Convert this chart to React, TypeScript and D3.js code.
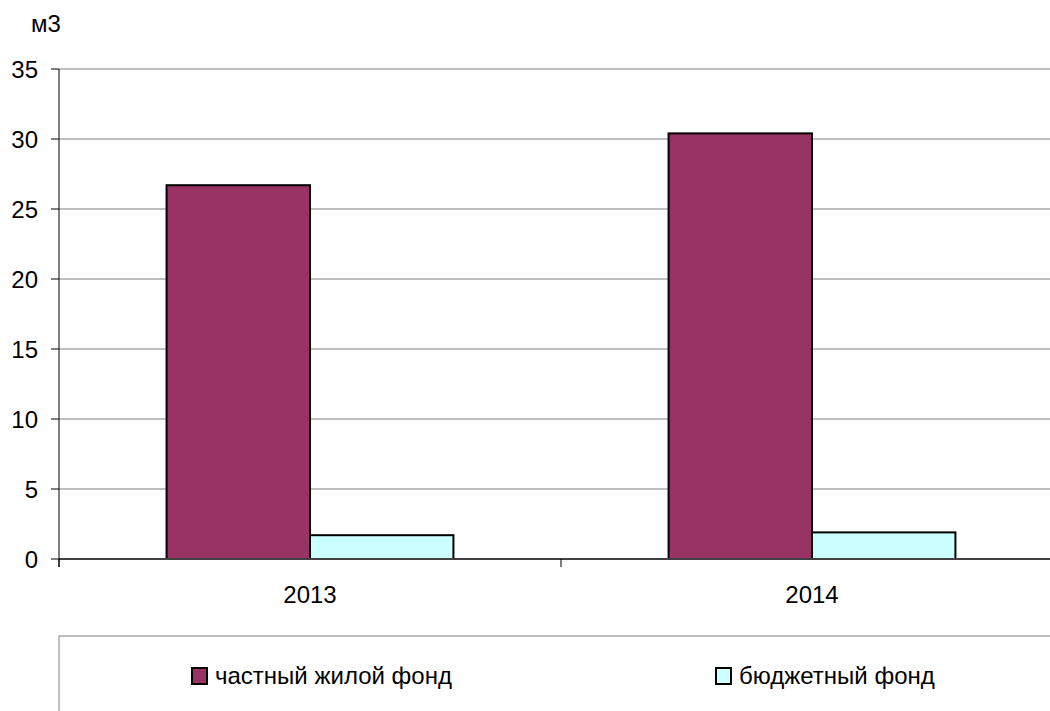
import React from "react";
import * as d3 from "d3";

const categories = ["2013", "2014"];
const seriesNames = ["частный жилой фонд", "бюджетный фонд"];
const privateValues = [26.7, 30.4];
const budgetValues = [1.7, 1.9];
const yTicks = [0, 5, 10, 15, 20, 25, 30, 35];
const colors = ["#993366", "#CCFFFF"];
const unitLabel = "м3";

export default function App() {
  const W = 1050, H = 711;
  const left = 59, right = 1063, top = 69, bottom = 559;
  const font = "'Liberation Sans', Arial, sans-serif";
  const fs = 24;

  const x0 = d3.scaleBand<string>().domain(categories).range([left, right]).padding(0);
  const step = x0.bandwidth();
  const gap = (step * 1.5) / 3.5;
  const x1 = d3.scaleBand<string>().domain(seriesNames).range([gap / 2, step - gap / 2]).padding(0);
  const y = d3.scaleLinear().domain([0, 35]).range([bottom, top]);

  const seriesValues = [privateValues, budgetValues];

  return (
    <svg width={W} height={H} style={{ position: "absolute", left: 0, top: 0, background: "#fff" }}>
      <rect x={0} y={0} width={W} height={H} fill="#fff" />
      <text x={31} y={32} fontFamily={font} fontSize={fs} fill="#000">{unitLabel}</text>
      {yTicks.map((t) => (
        <g key={t}>
          {t !== 0 && (
            <line x1={left} x2={W} y1={y(t)} y2={y(t)} stroke="#808080" strokeWidth={1} />
          )}
          <line x1={left - 8} x2={left} y1={y(t)} y2={y(t)} stroke="#000" strokeWidth={1} />
          <text x={38} y={y(t) + 8.5} textAnchor="end" fontFamily={font} fontSize={fs} fill="#000">
            {t}
          </text>
        </g>
      ))}
      {categories.map((c, ci) =>
        seriesNames.map((s, si) => {
          const v = seriesValues[si][ci];
          const bx = (x0(c) as number) + (x1(s) as number);
          return (
            <rect
              key={c + s}
              x={bx}
              y={y(v)}
              width={x1.bandwidth()}
              height={y(0) - y(v)}
              fill={colors[si]}
              stroke="#000"
              strokeWidth={2}
            />
          );
        })
      )}
      <line x1={left} x2={W} y1={y(0)} y2={y(0)} stroke="#404040" strokeWidth={2} />
      <line x1={left} x2={left} y1={top} y2={bottom + 8} stroke="#000" strokeWidth={1} />
      {categories.map((c) => (
        <line key={"t" + c} x1={x0(c) as number} x2={x0(c) as number} y1={bottom} y2={bottom + 8} stroke="#000" strokeWidth={1} />
      ))}
      {categories.map((c) => (
        <text key={"l" + c} x={(x0(c) as number) + step / 2} y={603} textAnchor="middle" fontFamily={font} fontSize={fs} fill="#000">
          {c}
        </text>
      ))}
      <rect x={left} y={636} width={1100} height={200} fill="none" stroke="#808080" strokeWidth={1} />
      {seriesNames.map((s, si) => {
        const lx = si === 0 ? 192 : 716;
        return (
          <g key={"lg" + s}>
            <rect x={lx} y={668} width={15} height={16} fill={colors[si]} stroke="#000" strokeWidth={2} />
            <text x={lx + 23} y={684} fontFamily={font} fontSize={fs} fill="#000">{s}</text>
          </g>
        );
      })}
    </svg>
  );
}
